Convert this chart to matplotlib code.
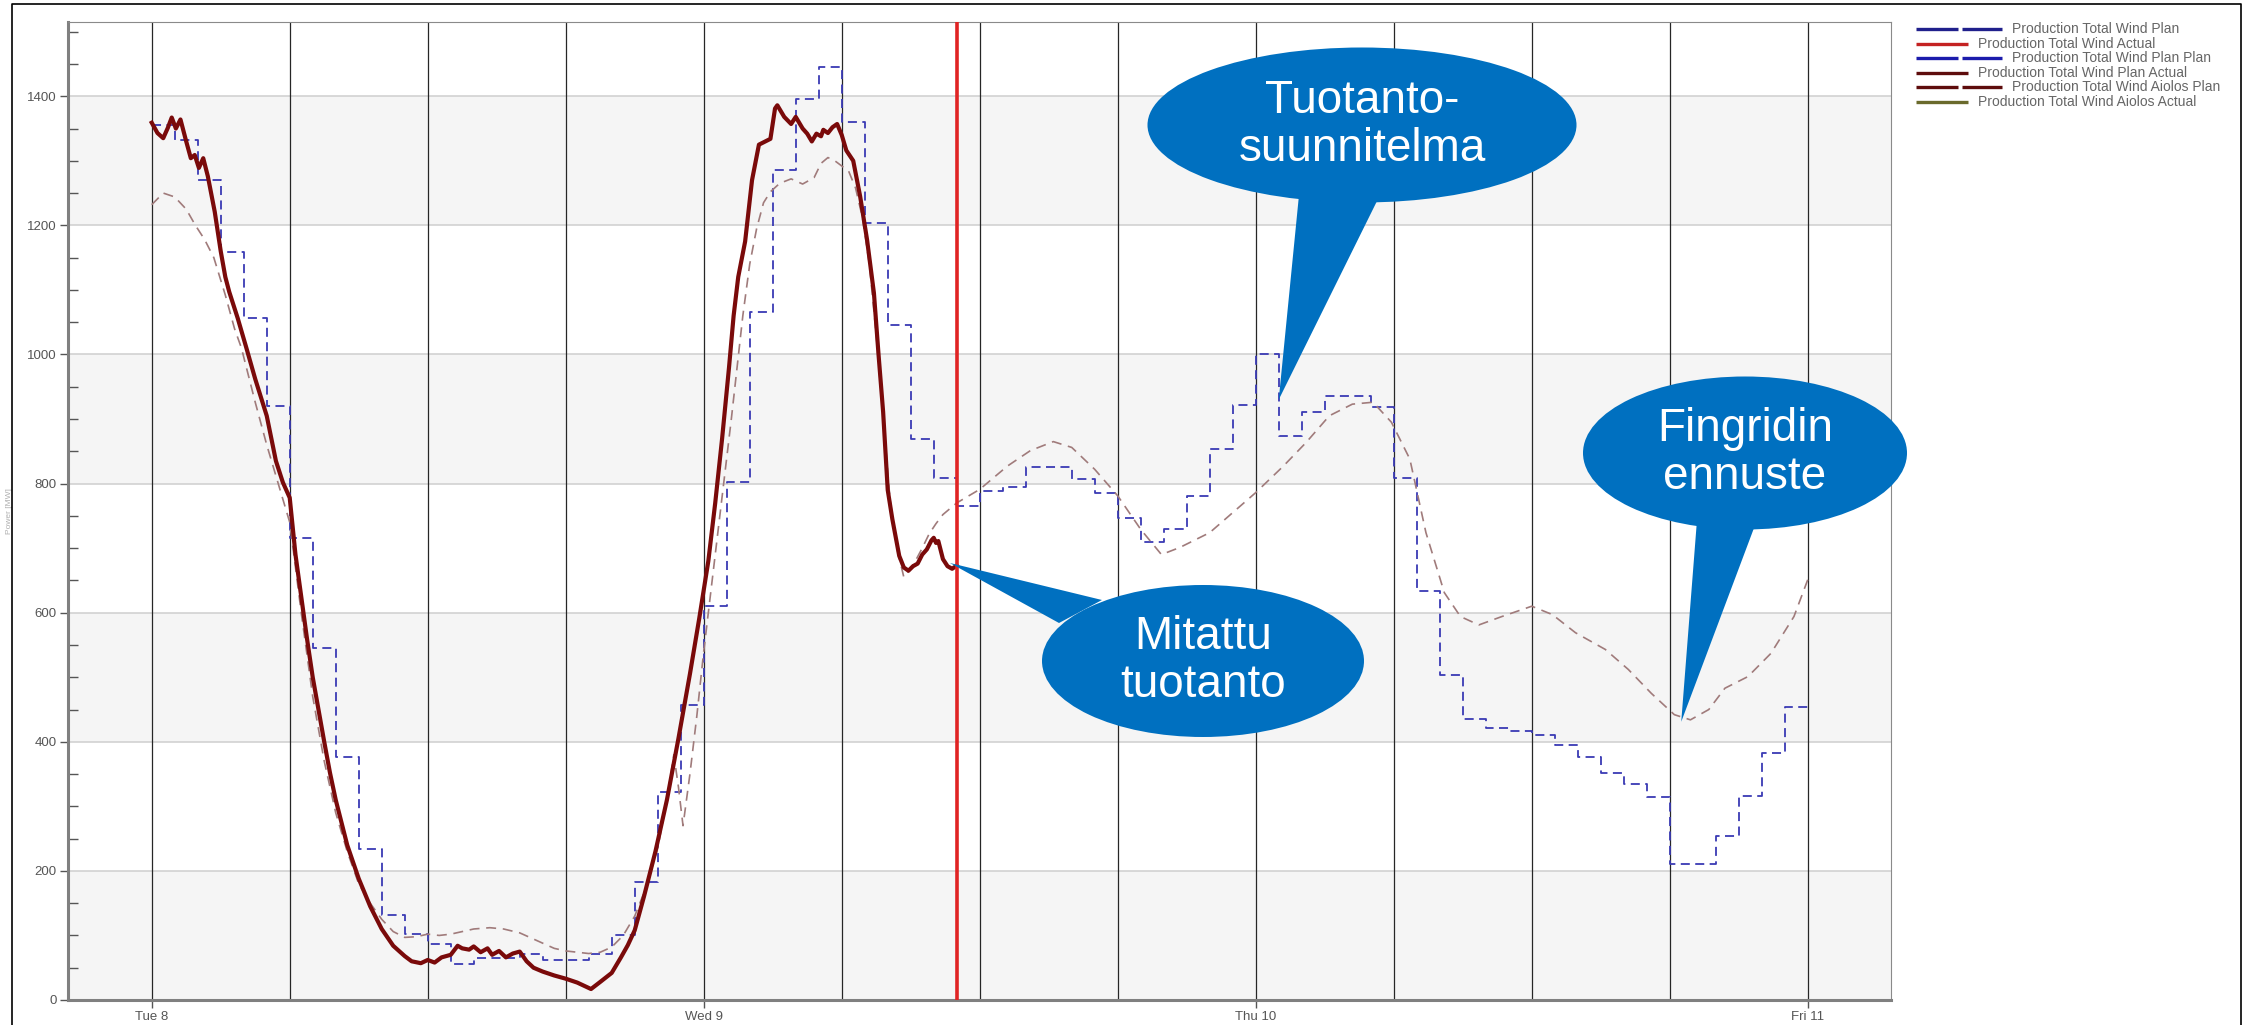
import matplotlib
matplotlib.use("Agg")
import matplotlib.pyplot as plt
from matplotlib.patches import Ellipse, Polygon
from matplotlib.ticker import MultipleLocator

plt.rcParams['font.family'] = ['Liberation Sans', 'DejaVu Sans']

# === data (hours from Tue 8 00:00, MW) ===
day_ticks = [0, 24, 48, 72]
day_labels = ["Tue 8", "Wed 9", "Thu 10", "Fri 11"]
now_hour = 35

# hourly production plan (step values, hour 0..71)
plan_hours = list(range(0, 73))
plan_mw = [1355, 1332, 1270, 1159, 1057, 920, 716, 545, 377, 234,
           131, 103, 87, 56, 65, 65, 71, 62, 62, 71,
           100, 183, 322, 457, 610, 802, 1066, 1285, 1396, 1445,
           1360, 1204, 1045, 869, 809, 765, 789, 794, 825, 825,
           807, 786, 747, 709, 729, 780, 853, 921, 1000, 874,
           911, 935, 935, 918, 808, 633, 503, 436, 422, 417,
           411, 395, 376, 352, 335, 314, 210, 210, 254, 316,
           383, 454]
plan_mw = plan_mw + [plan_mw[-1]]

# measured production
actual_hours = [0.0, 0.25, 0.5, 0.7, 0.87, 1.05, 1.25, 1.5, 1.7, 1.87,
                2.05, 2.24, 2.44, 2.74, 3.0, 3.2, 3.37, 3.74, 4.1, 4.5,
                5.0, 5.4, 5.7, 6.0, 6.25, 6.5, 6.75, 7.0, 7.25, 7.5,
                7.75, 8.0, 8.5, 9.0, 9.5, 10.0, 10.5, 11.0, 11.3, 11.7,
                12.0, 12.3, 12.6, 13.0, 13.3, 13.5, 13.8, 14.0, 14.3, 14.6,
                14.8, 15.1, 15.4, 15.7, 16.0, 16.3, 16.6, 17.0, 17.5, 18.0,
                18.5, 18.8, 19.1, 19.5, 20.0, 20.4, 20.7, 21.0, 21.4, 21.9,
                22.4, 22.9, 23.4, 23.8, 24.2, 24.5, 24.8, 25.1, 25.3, 25.5,
                25.8, 26.1, 26.4, 26.9, 27.1, 27.2, 27.5, 27.8, 28.0, 28.3,
                28.5, 28.7, 28.9, 29.1, 29.2, 29.4, 29.6, 29.8, 30.0, 30.2,
                30.5, 30.8, 31.1, 31.4, 31.6, 31.8, 32.0, 32.2, 32.5, 32.7,
                32.9, 33.1, 33.3, 33.5, 33.7, 33.9, 34.0, 34.1, 34.2, 34.4,
                34.6, 34.8, 35.0]
actual_mw = [1359, 1343, 1335, 1351, 1367, 1350, 1364, 1330, 1304, 1309,
             1289, 1304, 1276, 1221, 1160, 1120, 1097, 1056, 1012, 962,
             905, 835, 802, 778, 690, 625, 560, 500, 450, 400,
             352, 310, 240, 188, 145, 110, 84, 68, 60, 57,
             62, 58, 66, 70, 84, 80, 78, 83, 74, 80,
             70, 76, 66, 72, 75, 60, 50, 44, 38, 33,
             27, 22, 17, 28, 42, 66, 85, 108, 160, 230,
             310, 405, 505, 590, 680, 770, 870, 980, 1060, 1120,
             1175, 1270, 1325, 1334, 1381, 1386, 1368, 1357, 1368, 1350,
             1342, 1330, 1342, 1338, 1348, 1343, 1352, 1357, 1340, 1316,
             1300, 1245, 1178, 1095, 1000, 911, 790, 745, 688, 670,
             665, 672, 676, 690, 698, 712, 716, 708, 711, 683,
             672, 668, 673]

# Aiolos forecast (Fingrid)
aiolos_hours = [0.0, 0.5, 1.0, 1.5, 1.9, 2.3, 2.7, 3.2, 3.6, 3.9,
                4.5, 5.0, 5.5, 6.0, 6.5, 7.0, 7.5, 8.0, 8.5, 9.0,
                9.5, 10.0, 10.5, 11.0, 11.5, 12.0, 12.5, 13.0, 13.5, 14.0,
                14.7, 15.3, 16.0, 16.5, 17.0, 17.5, 18.0, 19.0, 19.5, 20.0,
                20.5, 21.0, 21.5, 22.0, 22.4, 22.7, 22.9, 23.1, 23.4, 23.7,
                24.0, 24.3, 24.6, 25.2, 25.7, 26.0, 26.3, 26.6, 26.9, 27.3,
                27.8, 28.3, 28.8, 29.1, 29.4, 29.7, 30.0, 30.3, 30.6, 30.9,
                31.2, 31.5, 31.8, 32.1, 32.4, 32.7, 33.0, 33.2, 33.5, 33.8,
                34.1, 34.4, 35.0, 36.0, 37.2, 38.2, 39.2, 40.0, 41.0, 42.0,
                43.0, 43.9, 44.7, 46.0, 47.0, 48.0, 49.2, 50.2, 51.2, 52.2,
                53.1, 53.9, 54.7, 55.4, 56.2, 56.9, 57.7, 58.7, 60.0, 60.9,
                61.9, 63.2, 64.2, 65.2, 66.2, 66.9, 67.7, 68.4, 69.4, 70.4,
                71.4, 72.0]
aiolos_mw = [1232, 1250, 1244, 1225, 1200, 1178, 1150, 1092, 1040, 1010,
             926, 860, 800, 740, 600, 470, 370, 290, 230, 180,
             150, 125, 106, 97, 98, 102, 100, 102, 106, 110,
             112, 110, 104, 96, 88, 80, 76, 72, 74, 82,
             100, 130, 175, 235, 310, 380, 330, 270, 350, 440,
             540, 630, 720, 900, 1060, 1140, 1195, 1235, 1252, 1265,
             1272, 1264, 1274, 1296, 1305, 1300, 1292, 1284, 1258, 1212,
             1140, 1030, 905, 775, 700, 655, 668, 680, 700, 722,
             738, 752, 770, 791, 827, 851, 865, 856, 822, 781,
             729, 690, 701, 724, 755, 786, 827, 864, 905, 923,
             926, 895, 838, 724, 631, 594, 581, 594, 610, 597,
             569, 543, 512, 475, 442, 434, 450, 483, 501, 537,
             594, 651]

legend_labels = ["Production Total Wind Plan", "Production Total Wind Actual",
                 "Production Total Wind Plan Plan", "Production Total Wind Plan Actual",
                 "Production Total Wind Aiolos Plan", "Production Total Wind Aiolos Actual"]
legend_colors = ["#20208c", "#c42222", "#1c1cac", "#5e0c0c", "#5e0c0c", "#6a6a2c"]
legend_dashed = [True, False, True, False, True, False]

callout_texts = ["Tuotanto-\nsuunnitelma", "Mitattu\ntuotanto", "Fingridin\nennuste"]
callout_tips = [(49.0, 930), (34.7, 677), (66.5, 431)]

# === figure ===
W, H = 2264, 1025
fig = plt.figure(figsize=(W / 100, H / 100), dpi=100)
fig.patch.set_facecolor("white")
ax = fig.add_axes([68 / W, 1 - 1000 / H, (1891 - 68) / W, (1000 - 22) / H])
ax.set_xlim(-3.64, 75.62)
ax.set_ylim(0, 1515)

# background bands and grid
for y0 in [0, 400, 800, 1200]:
    ax.axhspan(y0, y0 + 200, color="#f5f5f5", lw=0, zorder=0)
for y in range(200, 1401, 200):
    ax.axhline(y, color="#d2d2d2", lw=1.2, zorder=0.5)
for h in range(0, 73, 6):
    ax.axvline(h, color="#262626", lw=0.9, zorder=1)

ax.plot(plan_hours, plan_mw, drawstyle="steps-post", color="#3a3ab4", lw=1.3,
        dashes=(5, 3), zorder=2)
ax.plot(aiolos_hours, aiolos_mw, color="#a07b7b", lw=1.2, dashes=(6, 4), zorder=3)
ax.plot(actual_hours, actual_mw, color="#7a0a0a", lw=3.0, zorder=4,
        solid_joinstyle="round")
ax.axvline(now_hour, color="#e02424", lw=2.6, zorder=5)

ax.set_xticks(day_ticks)
ax.set_xticklabels(day_labels)
ax.set_yticks(range(0, 1401, 200))
ax.yaxis.set_minor_locator(MultipleLocator(50))
ax.tick_params(axis="x", direction="out", length=6, width=1, color="#555555",
               labelsize=9.5, labelcolor="#555555", pad=2)
ax.tick_params(axis="y", which="major", direction="out", length=6, width=1,
               color="#555555", labelsize=9.5, labelcolor="#555555", pad=2)
ax.tick_params(axis="y", which="minor", direction="in", length=7, width=1,
               color="#555555")
for side in ["left", "bottom"]:
    ax.spines[side].set_color("#808080")
    ax.spines[side].set_linewidth(2.2)
for side in ["top", "right"]:
    ax.spines[side].set_color("#8a8a8a")
    ax.spines[side].set_linewidth(0.8)
ax.set_ylabel("Power [MW]", fontsize=6, color="#b0b0b0", labelpad=0)
ax.yaxis.set_label_coords(-0.03, 0.5)

# === overlay in pixel coords: border, legend, callouts ===
ov = fig.add_axes([0, 0, 1, 1], zorder=10)
ov.set_xlim(0, W)
ov.set_ylim(H, 0)
ov.axis("off")
ov.patch.set_alpha(0)

ov.plot([12, 12, 2241, 2241], [H, 4, 4, H], color="black", lw=1.2)

row_y = [29, 44, 58, 73, 87, 102]
for lab, col, dashed, y in zip(legend_labels, legend_colors, legend_dashed, row_y):
    if dashed:
        ov.plot([1916, 1958], [y, y], color=col, lw=2.4, solid_capstyle="butt")
        ov.plot([1962, 2002], [y, y], color=col, lw=2.4, solid_capstyle="butt")
        tx = 2012
    else:
        ov.plot([1916, 1968], [y, y], color=col, lw=2.4, solid_capstyle="butt")
        tx = 1978
    ov.text(tx, y, lab, fontsize=10, color="#666666", va="center", ha="left")


def to_px(h, v):
    dx, dy = ax.transData.transform((h, v))
    return dx, H - dy


bubble_color = "#0070c0"
ellipses = [((1362, 125), 429, 155), ((1203, 661), 322, 152), ((1745, 453), 324, 153)]
bases = [[(1299, 195), (1380, 195)], [(1059, 623), (1102, 600)], [(1697, 520), (1757, 520)]]
for (c, w, hgt), base, tip, txt in zip(ellipses, bases, callout_tips, callout_texts):
    tx, ty = to_px(*tip)
    ov.add_patch(Polygon([base[0], base[1], (tx, ty)], closed=True,
                         facecolor=bubble_color, edgecolor="none"))
    ov.add_patch(Ellipse(c, w, hgt, facecolor=bubble_color, edgecolor="none"))
    ov.text(c[0], c[1], txt, fontsize=33, color="white", ha="center", va="center",
            linespacing=1.1)

fig.savefig("out.png", dpi=100)
